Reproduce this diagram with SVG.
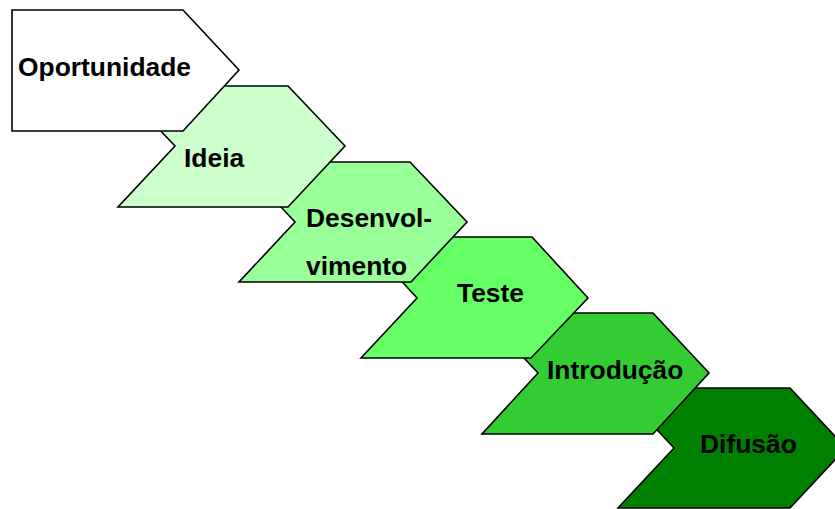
<svg xmlns="http://www.w3.org/2000/svg" width="835" height="509" viewBox="0 0 835 509">
<style>
.s{stroke:#000;stroke-width:1.6;stroke-linejoin:miter}
.t{font-family:"Liberation Sans",Arial,sans-serif;font-weight:bold;font-size:26.4px;fill:#000}
</style>
<rect width="835" height="509" fill="#fff"/>
<g id="connectors"></g>
<g id="difusao">
<polygon class="s" fill="#008000" points="618,388 790,388 846,448 790,508 618,508 674,448"/>
<text class="t" x="700" y="453">Difusão</text>
</g>
<g id="introducao">
<polygon class="s" fill="#33CC33" points="482,313 653,313 709,373 653,434 482,434 538,373"/>
<text class="t" x="547" y="379">Introdução</text>
</g>
<g id="teste">
<polygon class="s" fill="#66FF66" points="361,237 532,237 588,298 531,358 361,358 417,298"/>
<text class="t" x="457" y="302">Teste</text>
</g>
<g id="desenvolvimento">
<polygon class="s" fill="#99FF99" points="239,162 410,162 467,222 411,282 239,282 295,222"/>
<text class="t" x="306" y="227">Desenvol-</text>
<text class="t" x="306" y="275">vimento</text>
</g>
<g id="ideia">
<polygon class="s" fill="#CCFFCC" points="118,86 288,86 345,146 288,207 118,207 175,146"/>
<text class="t" x="184" y="167">Ideia</text>
</g>
<g id="oportunidade">
<polygon class="s" fill="#FFFFFF" points="12,10 183,10 239,70 183,131 12,131"/>
<text class="t" x="18" y="76">Oportunidade</text>
</g>
</svg>
